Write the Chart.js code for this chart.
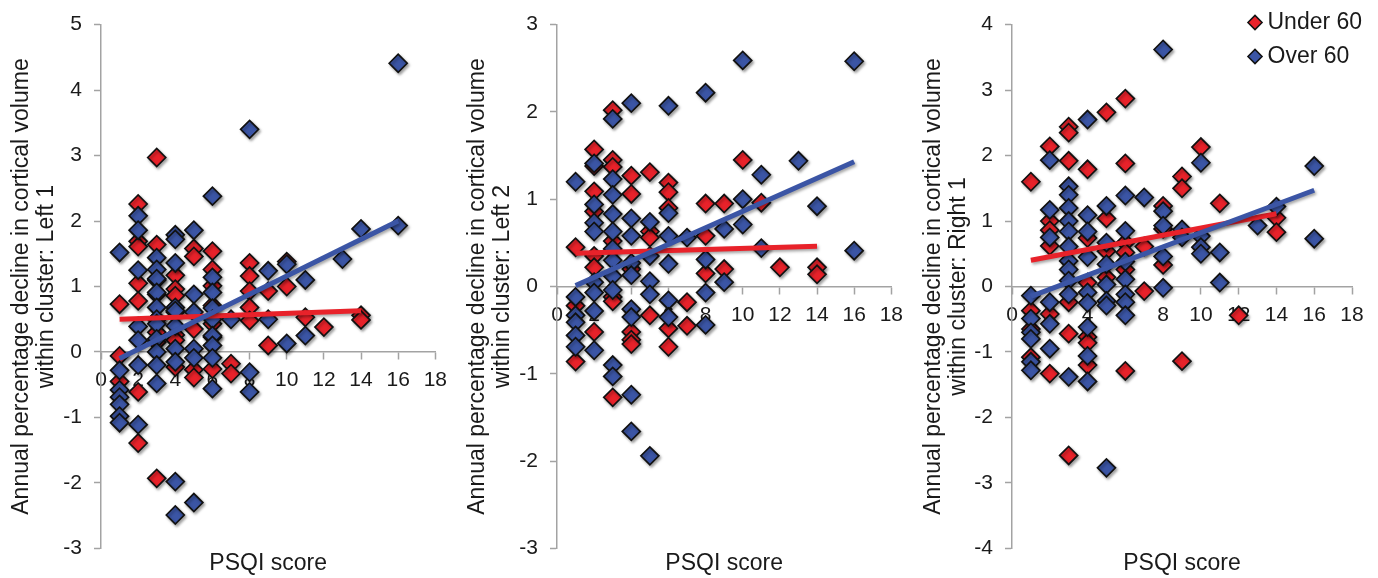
<!DOCTYPE html>
<html>
<head>
<meta charset="utf-8">
<title>PSQI score and annual cortical volume decline</title>
<script src="https://cdn.jsdelivr.net/npm/chart.js@4.4.1/dist/chart.umd.min.js"></script>
<style>
    html, body { margin: 0; padding: 0; background: #ffffff; }
    #page { position: relative; width: 1378px; height: 578px; overflow: hidden; }
    #page canvas { position: absolute; top: 0; }
    #chartLeft1 { left: 0; }
    #chartLeft2 { left: 456px; }
    #chartRight1 { left: 912px; }
    #legendChart { left: 1243px; top: 0; }
</style>
</head>
<body>
<div id="page">
    <canvas id="chartLeft1" width="456" height="578"></canvas>
    <canvas id="chartLeft2" width="456" height="578"></canvas>
    <canvas id="chartRight1" width="466" height="578"></canvas>
    <canvas id="legendChart" width="135" height="110"></canvas>
</div>
<script>
// Sleep quality (PSQI) vs annual cortical volume decline, three clusters
// Values

const seriesNames = ['Under 60', 'Over 60'];
const psqiTicks = [0, 2, 4, 6, 8, 10, 12, 14, 16, 18];

// Cluster: Left 1
const left1UnderX = [1,1,1, 2,2,2,2,2,2,2, 3,3,3,3,3,3,3,3, 4,4,4,4,4,4,4, 5,5,5,5,5, 6,6,6,6,6,6,6, 7,7, 8,8,8,8,8, 9,9, 10,10, 11, 12, 14,14];
const left1UnderY = [0.73,-0.06,-0.45, 2.26,1.69,1.61,1.05,0.78,-0.61,-1.39, 2.97,1.64,1.10,0.88,0.50,0.30,0.15,-1.93, 1.17,0.96,0.86,0.61,0.26,0.18,-0.23, 1.58,1.46,0.35,-0.27,-0.39, 1.54,1.26,1.01,0.71,0.43,0.23,-0.26, -0.18,-0.33, 1.36,1.16,0.93,0.68,0.48, 0.93,0.10, 1.00,1.38, 0.53, 0.38, 0.56,0.49];
const left1OverX = [1,1,1,1,1,1,1, 2,2,2,2,2,2,2, 3,3,3,3,3,3,3,3,3,3,3, 4,4,4,4,4,4,4,4,4,4, 5,5,5,5,5,5, 6,6,6,6,6,6,6,6,6, 7, 8,8,8, 9,9, 10,10, 11,11, 13, 14, 16,16];
const left1OverY = [1.52,-0.28,-0.58,-0.69,-0.80,-0.98,-1.08, 2.08,1.86,1.25,0.39,0.18,-0.20,-1.11, 1.44,1.26,1.12,0.91,0.68,0.50,0.43,0.20,0.00,-0.20,-0.48, 1.79,1.72,1.36,0.68,0.63,0.40,0.05,-0.15,-1.98,-2.49, 1.86,0.88,0.61,0.05,-0.09,-2.30, 2.38,1.14,0.91,0.67,0.50,0.25,0.10,-0.09,-0.56, 0.50, 3.40,-0.31,-0.61, 1.24,0.50, 1.34,0.13, 1.10,0.25, 1.42, 1.88, 4.41,1.93];
const left1UnderTrendX = [1, 14];
const left1UnderTrendY = [0.50, 0.63];
const left1OverTrendX = [1, 16];
const left1OverTrendY = [-0.10, 2.00];

// Cluster: Left 2
const left2UnderX = [1,1,1, 2,2,2,2,2,2,2, 3,3,3,3,3,3,3, 4,4,4,4,4,4, 5,5,5,5, 6,6,6,6,6, 7,7, 8,8,8, 9,9, 10, 11, 12, 14,14];
const left2UnderY = [0.45,-0.22,-0.86, 1.57,1.38,1.09,0.86,0.35,0.22,-0.52, 2.02,1.45,1.37,0.52,-0.12,-0.17,-1.27, 1.27,1.06,0.20,-0.52,-0.61,-0.66, 1.31,0.63,0.56,-0.33, 1.19,1.08,0.90,-0.48,-0.69, -0.18,-0.45, 0.95,0.58,0.15, 0.95,0.20, 1.45, 0.96, 0.22, 0.22,0.14];
const left2OverX = [1,1,1,1,1,1, 2,2,2,2,2,2,2,2, 3,3,3,3,3,3,3,3,3,3,3, 4,4,4,4,4,4,4,4,4, 5,5,5,5,5, 6,6,6,6,6,6, 7, 8,8,8,8, 9,9, 10,10,10, 11,11, 13, 14, 16,16];
const left2OverY = [1.20,-0.12,-0.33,-0.41,-0.56,-0.69, 1.41,0.94,0.73,0.63,0.05,-0.07,-0.28,-0.73, 1.92,1.23,1.05,0.83,0.63,0.43,0.30,0.12,-0.04,-0.90,-1.03, 2.10,0.78,0.58,0.27,0.13,-0.26,-0.35,-1.24,-1.66, 0.74,0.35,0.06,-0.09,-1.94, 2.07,0.84,0.58,0.26,-0.16,-0.35, 0.56, 2.22,0.31,-0.07,-0.44, 0.66,0.05, 2.59,1.00,0.71, 1.28,0.44, 1.44, 0.92, 2.58,0.41];
const left2UnderTrendX = [1, 14];
const left2UnderTrendY = [0.38, 0.46];
const left2OverTrendX = [1, 16];
const left2OverTrendY = [0.01, 1.43];

// Cluster: Right 1
const right1UnderX = [1,1,1,1, 2,2,2,2,2,2, 3,3,3,3,3,3, 4,4,4,4,4,4, 5,5,5,5, 6,6,6,6,6,6, 7,7, 8,8,8, 9,9,9, 10, 11, 12, 14,14];
const right1UnderY = [1.60,-0.37,-0.65,-1.08, 2.14,1.00,0.86,0.62,-0.42,-1.33, 2.44,2.35,1.92,-0.24,-0.72,-2.58, 1.79,0.74,0.06,-0.77,-0.86,-1.20, 2.66,1.04,0.54,0.14, 2.87,1.88,0.67,0.52,0.26,-1.29, 0.61,-0.07, 1.23,0.88,0.33, 1.68,1.50,-1.14, 2.13, 1.27, -0.44, 1.05,0.83];
const right1OverX = [1,1,1,1,1,1, 2,2,2,2,2,2, 3,3,3,3,3,3,3,3,3,3,3, 4,4,4,4,4,4,4,4,4, 5,5,5,5,5,5,5, 6,6,6,6,6,6,6, 7, 8,8,8,8,8, 9,9, 10,10,10,10, 11,11, 13, 14, 16,16];
const right1OverY = [-0.14,-0.49,-0.70,-0.80,-1.15,-1.28, 1.93,1.17,0.75,-0.24,-0.57,-0.95, 1.53,1.40,1.20,1.00,0.84,0.61,0.39,0.26,0.09,-0.12,-1.38, 2.55,1.09,0.84,0.45,-0.09,-0.25,-0.62,-1.06,-1.45, 1.23,0.67,0.34,0.03,-0.22,-0.29,-2.77, 1.39,0.85,0.38,0.11,-0.12,-0.24,-0.44, 1.36, 3.62,1.15,0.93,0.46,-0.02, 0.87,0.75, 1.89,0.77,0.60,0.50, 0.52,0.06, 0.93, 1.22, 1.84,0.73];
const right1UnderTrendX = [1, 14];
const right1UnderTrendY = [0.40, 1.11];
const right1OverTrendX = [1, 16];
const right1OverTrendY = [-0.15, 1.47];

// Styling
const FONT = '"Liberation Sans", Arial, Helvetica, sans-serif';
const RED = '#e8222a';
const BLUE = '#3b55a5';
const AXIS_GREY = '#a3a3a3';
const TEXT = '#1a1a1a';

Chart.defaults.font.family = FONT;
Chart.defaults.color = TEXT;

// Soft drop shadow under markers and lines, like the original figure
const shadowPlugin = {
    id: 'markerShadow',
    beforeDatasetDraw(chart) {
        const ctx = chart.ctx;
        ctx.save();
        ctx.shadowColor = 'rgba(0, 0, 0, 0.35)';
        ctx.shadowBlur = 3;
        ctx.shadowOffsetX = 1.5;
        ctx.shadowOffsetY = 2;
    },
    afterDatasetDraw(chart) {
        chart.ctx.restore();
    }
};

function toPoints(xs, ys) {
    return xs.map((x, i) => ({ x: x, y: ys[i] }));
}

// Build one panel
function renderPanel(canvasId, panel) {
    const ctx = document.getElementById(canvasId).getContext('2d');

    const lineStyle = {
        type: 'line',
        pointRadius: 0,
        borderWidth: 5,
        borderCapStyle: 'butt',
        fill: false,
        tension: 0
    };
    const pointStyle = {
        pointStyle: 'rectRot',
        pointRadius: 9,
        borderColor: '#111111',
        borderWidth: 1.7
    };

    // first dataset is drawn on top
    const datasets = [
        Object.assign({ label: seriesNames[1] + ' trend', data: toPoints(panel.overTrendX, panel.overTrendY), borderColor: BLUE }, lineStyle),
        Object.assign({ label: seriesNames[0] + ' trend', data: toPoints(panel.underTrendX, panel.underTrendY), borderColor: RED }, lineStyle),
        Object.assign({ label: seriesNames[1], data: toPoints(panel.overX, panel.overY), backgroundColor: BLUE }, pointStyle),
        Object.assign({ label: seriesNames[0], data: toPoints(panel.underX, panel.underY), backgroundColor: RED }, pointStyle)
    ];

    return new Chart(ctx, {
        type: 'scatter',
        data: { datasets: datasets },
        plugins: [shadowPlugin],
        options: {
            responsive: false,
            animation: false,
            events: [],
            layout: { padding: { top: 20, right: panel.padRight, bottom: 0, left: 0 } },
            plugins: {
                legend: { display: false },
                tooltip: { enabled: false },
                title: {
                    display: true,
                    position: 'bottom',
                    fullSize: false,
                    text: 'PSQI score',
                    color: TEXT,
                    font: { size: 23, weight: 'normal', lineHeight: 1.2 },
                    padding: { top: 1, bottom: 1 }
                }
            },
            scales: {
                x: {
                    type: 'linear',
                    position: { y: 0 },
                    min: 0,
                    max: 18,
                    afterBuildTicks: (scale) => {
                        scale.ticks = psqiTicks.map(v => ({ value: v }));
                    },
                    ticks: { autoSkip: false, maxRotation: 0, padding: 9, color: TEXT, font: { size: 21 } },
                    grid: { drawOnChartArea: false, drawTicks: true, tickLength: 7, color: AXIS_GREY, tickWidth: 1.5 },
                    border: { color: AXIS_GREY, width: 1.5 }
                },
                y: {
                    type: 'linear',
                    position: 'left',
                    min: panel.yMin,
                    max: panel.yMax,
                    ticks: { stepSize: 1, padding: 12, color: TEXT, font: { size: 21 } },
                    grid: { drawOnChartArea: false, drawTicks: true, tickLength: 7, color: AXIS_GREY, tickWidth: 1.5 },
                    border: { color: AXIS_GREY, width: 1.5 },
                    title: {
                        display: true,
                        text: ['Annual percentage decline in cortical volume', 'within cluster: ' + panel.cluster],
                        color: TEXT,
                        font: { size: 23, lineHeight: 1.08 },
                        padding: { top: 9, bottom: 0 }
                    },
                    afterFit: (scale) => {
                        scale.width = panel.axisWidth;
                    }
                }
            }
        }
    });
}

// Legend drawn by a small chart of its own, placed over the right panel
function renderLegend() {
    const ctx = document.getElementById('legendChart').getContext('2d');
    return new Chart(ctx, {
        type: 'scatter',
        data: {
            datasets: [
                { label: seriesNames[0], data: [], pointStyle: 'rectRot', backgroundColor: RED, borderColor: '#111111', borderWidth: 1.5 },
                { label: seriesNames[1], data: [], pointStyle: 'rectRot', backgroundColor: BLUE, borderColor: '#111111', borderWidth: 1.5 }
            ]
        },
        options: {
            responsive: false,
            animation: false,
            events: [],
            layout: { padding: 0 },
            scales: { x: { display: false }, y: { display: false } },
            plugins: {
                tooltip: { enabled: false },
                legend: {
                    position: 'left',
                    align: 'start',
                    maxWidth: 135,
                    labels: {
                        usePointStyle: true,
                        boxWidth: 2,
                        boxHeight: 10,
                        padding: 11,
                        color: TEXT,
                        font: { size: 23 }
                    }
                }
            }
        }
    });
}

document.addEventListener('DOMContentLoaded', function() {
    renderPanel('chartLeft1', {
        cluster: 'Left 1', yMin: -3, yMax: 5, axisWidth: 101, padRight: 15,
        underX: left1UnderX, underY: left1UnderY, overX: left1OverX, overY: left1OverY,
        underTrendX: left1UnderTrendX, underTrendY: left1UnderTrendY,
        overTrendX: left1OverTrendX, overTrendY: left1OverTrendY
    });
    renderPanel('chartLeft2', {
        cluster: 'Left 2', yMin: -3, yMax: 3, axisWidth: 101, padRight: 13,
        underX: left2UnderX, underY: left2UnderY, overX: left2OverX, overY: left2OverY,
        underTrendX: left2UnderTrendX, underTrendY: left2UnderTrendY,
        overTrendX: left2OverTrendX, overTrendY: left2OverTrendY
    });
    renderPanel('chartRight1', {
        cluster: 'Right 1', yMin: -4, yMax: 4, axisWidth: 100, padRight: 26,
        underX: right1UnderX, underY: right1UnderY, overX: right1OverX, overY: right1OverY,
        underTrendX: right1UnderTrendX, underTrendY: right1UnderTrendY,
        overTrendX: right1OverTrendX, overTrendY: right1OverTrendY
    });
    renderLegend();
});
</script>
</body>
</html>
